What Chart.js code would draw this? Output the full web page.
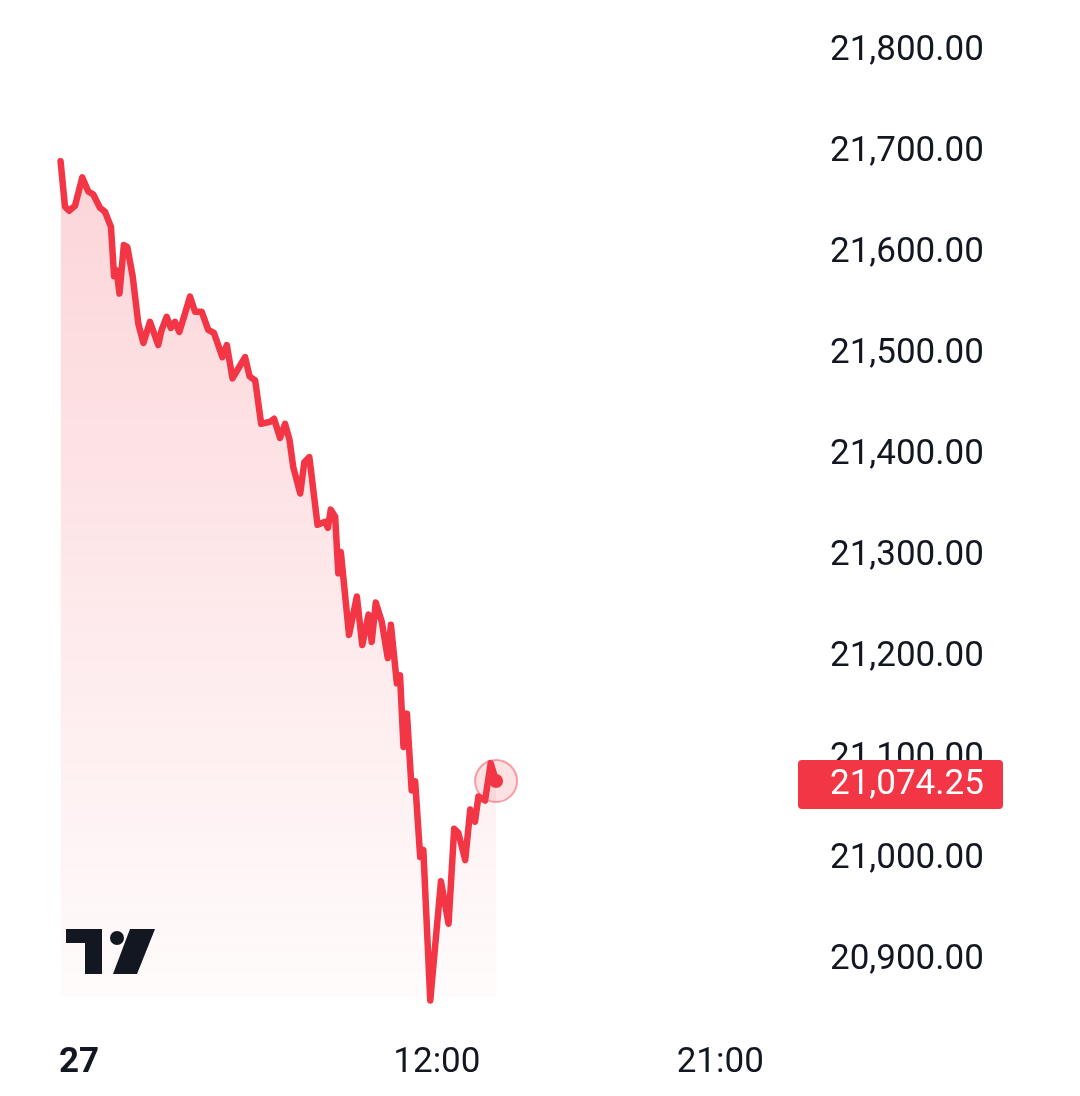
<!DOCTYPE html>
<html>
<head>
<meta charset="utf-8">
<script src="https://cdn.jsdelivr.net/npm/chart.js@4.4.1/dist/chart.umd.min.js"></script>
<style>
  html, body { margin: 0; padding: 0; background: #ffffff; }
  #wrap { width: 1080px; height: 1096px; position: relative; }
</style>
</head>
<body>
<div id="wrap"><canvas id="myChart"></canvas></div>
<script>
  // hours since midnight of the 27th
  var times = [0.05, 0.19, 0.32, 0.51, 0.74, 0.93, 1.09, 1.30, 1.46, 1.65, 1.75, 1.83, 1.92, 2.06, 2.17, 2.34,
    2.52, 2.68, 2.89, 3.15, 3.26, 3.42, 3.55, 3.68, 3.82, 3.97, 4.16, 4.32, 4.53, 4.74, 4.92, 5.19, 5.33,
    5.51, 5.70, 5.91, 6.05, 6.23, 6.42, 6.70, 6.83, 7.02, 7.18, 7.32, 7.44, 7.66, 7.79, 7.95, 8.21, 8.45,
    8.54, 8.63, 8.77, 8.87, 8.95, 9.21, 9.46, 9.63, 9.83, 9.93, 10.06, 10.25, 10.44, 10.54, 10.73, 10.83,
    10.94, 11.05, 11.20, 11.31, 11.47, 11.57, 11.79, 12.13, 12.37, 12.55, 12.68, 12.90, 13.06, 13.21,
    13.32, 13.53, 13.71, 13.88];
  var prices = [21688, 21643, 21639, 21644, 21672, 21658, 21655, 21642, 21638, 21623, 21574, 21580,
    21557, 21605, 21603, 21574, 21527, 21508, 21529, 21506, 21521, 21534, 21523, 21529, 21519, 21534,
    21554, 21539, 21539, 21521, 21518, 21494, 21506, 21473, 21483, 21494, 21475, 21471, 21428, 21430,
    21433, 21414, 21428, 21412, 21385, 21359, 21390, 21395, 21328, 21331, 21325, 21343, 21336, 21280,
    21301, 21219, 21257, 21209, 21239, 21212, 21251, 21232, 21196, 21229, 21171, 21179, 21108, 21141,
    21065, 21074, 20999, 21006, 20857, 20975, 20933, 21027, 21023, 20996, 21046, 21034, 21059, 21055,
    21092, 21074.25];

  var yTicks = [21800, 21700, 21600, 21500, 21400, 21300, 21200, 21100, 21000, 20900];
  var xTickHours = [0, 12, 21, 23.5];
  var xTickLabels = ['27', '12:00', '21:00', ''];

  var red = '#F23645';
  var lastIdx = prices.length - 1;
  var points = times.map(function (t, i) { return { x: t, y: prices[i] }; });

  var fmt = function (v) {
    return v.toLocaleString('en-US', { minimumFractionDigits: 2, maximumFractionDigits: 2 });
  };

  // price tag on the right scale + logo
  var extras = {
    id: 'extras',
    afterDraw: function (chart) {
      var ctx = chart.ctx;
      var ys = chart.scales.y;
      var py = ys.getPixelForValue(prices[lastIdx]);
      ctx.save();
      ctx.fillStyle = red;
      ctx.beginPath();
      ctx.roundRect(798, py - 21, 205, 49, 4);
      ctx.fill();
      ctx.fillStyle = '#ffffff';
      ctx.font = '35px Roboto';
      ctx.textBaseline = 'middle';
      ctx.fillText(fmt(prices[lastIdx]), 830, py + 4);

      // TradingView mark
      ctx.fillStyle = '#131722';
      ctx.fillRect(66, 929, 36, 14);
      ctx.fillRect(85, 929, 17, 45);
      ctx.beginPath();
      ctx.arc(117, 938, 7, 0, Math.PI * 2);
      ctx.fill();
      ctx.beginPath();
      ctx.moveTo(130, 929);
      ctx.lineTo(155, 929);
      ctx.lineTo(137, 974);
      ctx.lineTo(113, 974);
      ctx.closePath();
      ctx.fill();
      ctx.restore();
    }
  };

  var data = {
    datasets: [
      {
        data: points,
        borderColor: red,
        borderWidth: 6.5,
        borderJoinStyle: 'round',
        borderCapStyle: 'round',
        tension: 0,
        fill: 'start',
        clip: false,
        backgroundColor: function (c) {
          var area = c.chart.chartArea;
          if (!area) return 'rgba(242,54,69,0.15)';
          var g = c.chart.ctx.createLinearGradient(0, area.top, 0, area.bottom);
          g.addColorStop(0, 'rgba(242,54,69,0.24)');
          g.addColorStop(1, 'rgba(242,54,69,0.02)');
          return g;
        },
        pointRadius: function (c) { return c.dataIndex === lastIdx ? 7 : 0; },
        pointBackgroundColor: red,
        pointBorderWidth: 0,
        order: 0
      },
      {
        data: [points[lastIdx]],
        pointRadius: 21,
        pointBackgroundColor: 'rgba(242,54,69,0.15)',
        pointBorderColor: 'rgba(242,54,69,0.45)',
        pointBorderWidth: 2,
        showLine: false,
        clip: false,
        order: 1
      }
    ]
  };

  var config = {
    type: 'line',
    data: data,
    plugins: [extras],
    options: {
      responsive: false,
      animation: false,
      layout: { padding: { left: 59, top: 0, right: 0, bottom: 0 } },
      plugins: {
        legend: { display: false },
        tooltip: { enabled: false }
      },
      scales: {
        x: {
          type: 'linear',
          min: 0,
          max: 23.5,
          grid: { display: false, drawTicks: false },
          border: { display: false },
          afterBuildTicks: function (s) {
            s.ticks = xTickHours.map(function (v) { return { value: v }; });
          },
          afterFit: function (s) {
            s.height = 99;
          },
          ticks: {
            autoSkip: false,
            maxRotation: 0,
            align: 'inner',
            padding: 45,
            color: '#131722',
            font: function (c) {
              return { family: 'Roboto', size: 35, weight: c.index === 0 ? 'bold' : 'normal' };
            },
            callback: function (v, i) { return xTickLabels[i]; }
          }
        },
        y: {
          position: 'right',
          min: 20860.4,
          max: 21816.8,
          grid: { display: false, drawTicks: false },
          border: { display: false },
          afterBuildTicks: function (s) {
            s.ticks = yTicks.map(function (v) { return { value: v }; });
          },
          afterFit: function (s) {
            s.width = 281;
          },
          ticks: {
            padding: 31,
            labelOffset: 3,
            color: '#131722',
            font: { family: 'Roboto', size: 35, lineHeight: 0.01 },
            callback: function (v) { return fmt(v); }
          }
        }
      }
    }
  };

  var cv = document.getElementById('myChart');
  cv.width = 1080;
  cv.height = 1096;
  var myChart = new Chart(cv, config);
</script>
</body>
</html>
